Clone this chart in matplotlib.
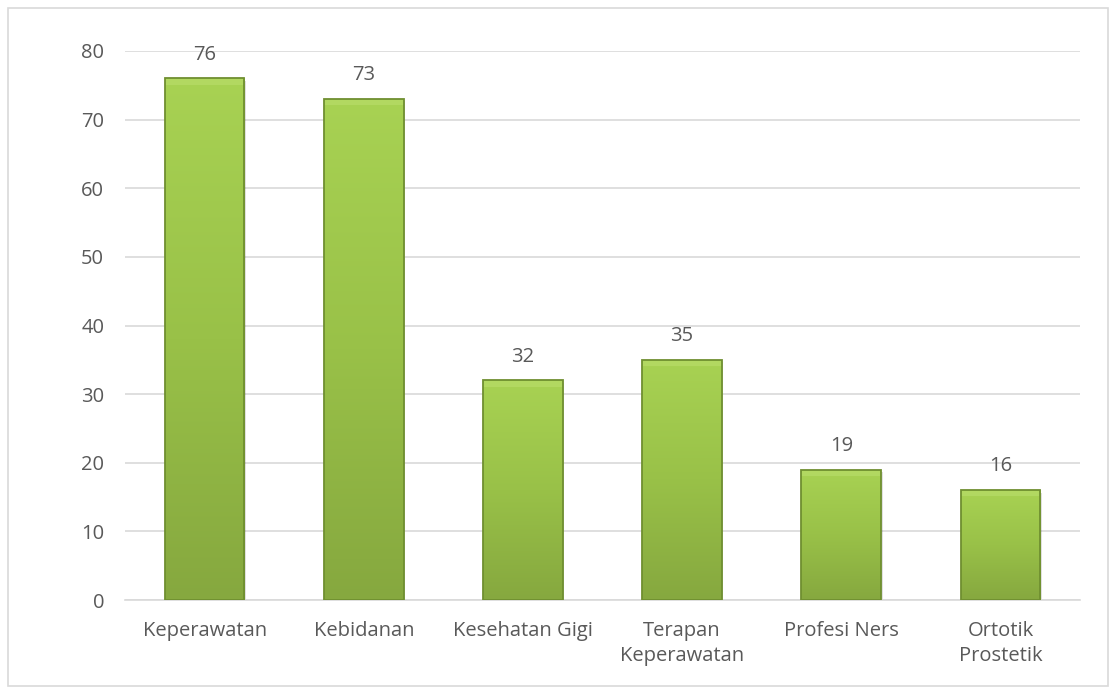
import matplotlib
matplotlib.use("Agg")
import matplotlib.pyplot as plt
import numpy as np
from matplotlib.patches import Rectangle
from matplotlib.colors import LinearSegmentedColormap

categories = ["Keperawatan", "Kebidanan", "Kesehatan Gigi", "Terapan\nKeperawatan", "Profesi Ners", "Ortotik\nProstetik"]
values = [76, 73, 32, 35, 19, 16]
yticks = [0, 10, 20, 30, 40, 50, 60, 70, 80]

plt.rcParams['font.family'] = ['Open Sans', 'DejaVu Sans']
txt = '#595959'
fs = 14.5

fig = plt.figure(figsize=(11.17, 6.94), dpi=100)
fig.patches.append(Rectangle((8/1117, 8/694), 1100/1117, 678/694, transform=fig.transFigure,
                             fill=False, edgecolor='#d9d9d9', linewidth=1.2))
ax = fig.add_axes([125/1117, 1-600/694, 955/1117, 549/694])
x = np.arange(len(categories))
ax.set_xlim(-0.5, len(categories)-0.5)
ax.set_ylim(0, 80)
ax.set_yticks(yticks)
ax.yaxis.grid(True, color='#d9d9d9', linewidth=1.2)
ax.set_axisbelow(True)
for s in ['top', 'right', 'left']:
    ax.spines[s].set_visible(False)
ax.spines['bottom'].set_color('#d9d9d9')
ax.spines['bottom'].set_linewidth(1.2)
ax.tick_params(length=0, labelsize=fs, labelcolor=txt)
ax.set_xticks(x)
ax.set_xticklabels(categories, linespacing=1.35)
ax.tick_params(axis='x', pad=15)
ax.tick_params(axis='y', pad=15)

cmap = LinearSegmentedColormap.from_list('g', ['#86a83f', '#99c148', '#a8d253'])
grad = np.linspace(0, 1, 256).reshape(-1, 1)
w = 0.5
bars = ax.bar(x, values, width=w, color='none', edgecolor='none')
for xi, v in zip(x, values):
    # shadow
    ax.add_patch(Rectangle((xi - w/2 + 0.01, -0.35), w, v, facecolor='#000000', alpha=0.12,
                           edgecolor='none', zorder=2))
    im = ax.imshow(grad, cmap=cmap, origin='lower', aspect='auto',
                   extent=(xi - w/2, xi + w/2, 0, v), zorder=3)
    r = Rectangle((xi - w/2, 0), w, v, facecolor='none', edgecolor='#6f8f30', linewidth=1.3, zorder=4)
    ax.add_patch(r)
    im.set_clip_path(r)
    # bevel top highlight
    ax.add_patch(Rectangle((xi - w/2, v - 0.9), w, 0.9, facecolor='#c4e57a', alpha=0.4,
                           edgecolor='none', zorder=3.5))
    ax.text(xi, v + 2.0, str(v), ha='center', va='bottom', fontsize=fs, color=txt)

fig.savefig('out.png', dpi=100)
